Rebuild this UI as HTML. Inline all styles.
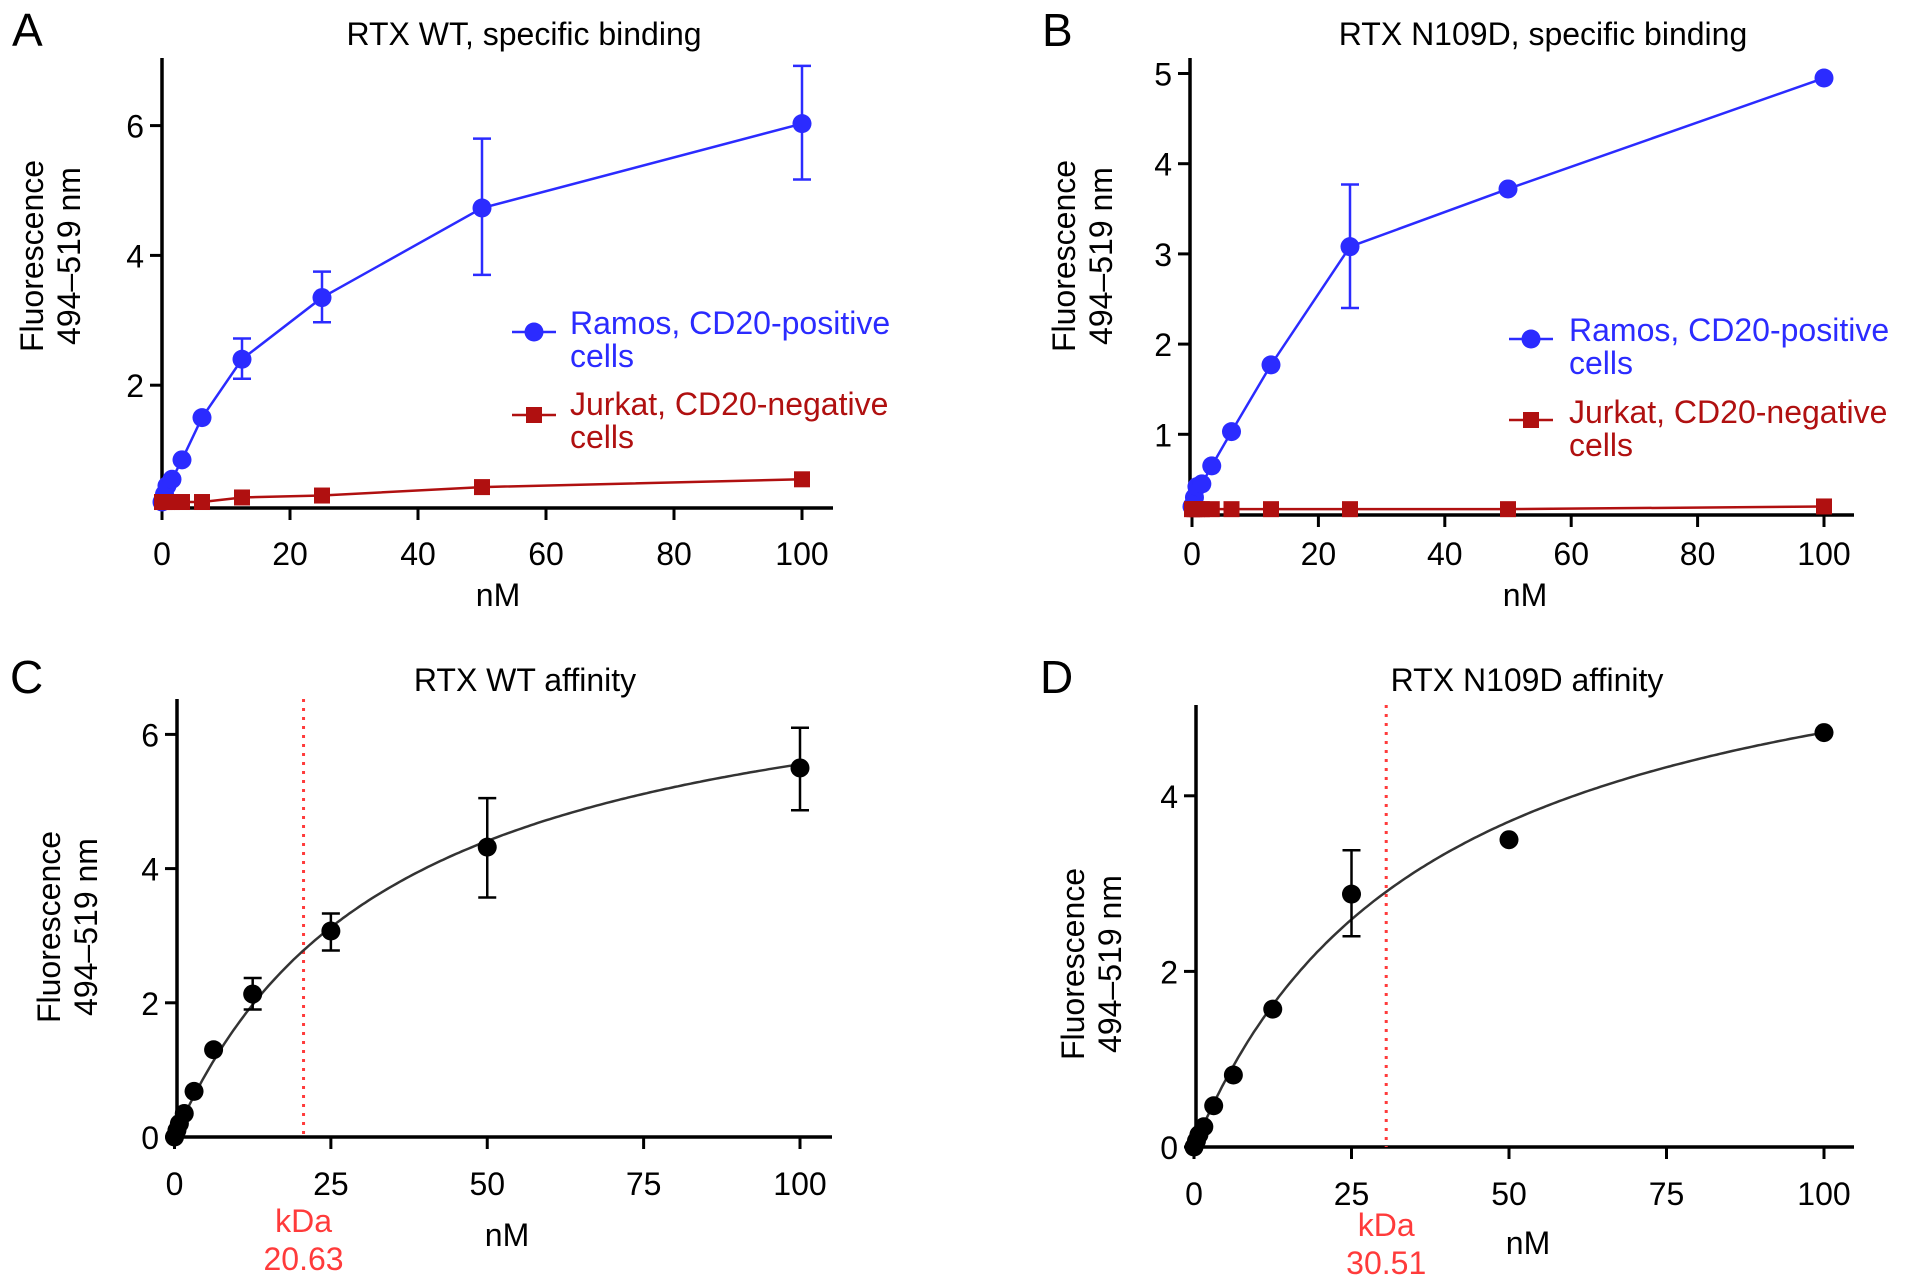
<!DOCTYPE html>
<html><head><meta charset="utf-8">
<style>
html,body{margin:0;padding:0;background:#fff;}
svg{display:block;font-family:"Liberation Sans",Arial,sans-serif;}
</style></head>
<body>
<svg id="fig" width="1913" height="1287" viewBox="0 0 1913 1287" xmlns="http://www.w3.org/2000/svg">
<text x="12" y="46" font-size="46">A</text>
<text x="1042" y="46" font-size="46">B</text>
<text x="10" y="693" font-size="46">C</text>
<text x="1040" y="693" font-size="46">D</text>
</svg>
<script>
// ---- data ----
const concA = [0, 0.39, 0.78, 1.56, 3.125, 6.25, 12.5, 25, 50, 100];
const ramosA = [0.2, 0.32, 0.45, 0.55, 0.85, 1.5, 2.4, 3.35, 4.73, 6.03];
const ramosAErrLo = [null, null, null, null, null, null, 2.1, 2.97, 3.7, 5.17];
const ramosAErrHi = [null, null, null, null, null, null, 2.72, 3.75, 5.8, 6.92];
const jurkatA = [0.2, 0.2, 0.2, 0.2, 0.2, 0.2, 0.27, 0.3, 0.43, 0.55];
const ramosB = [0.2, 0.3, 0.42, 0.45, 0.65, 1.03, 1.77, 3.08, 3.72, 4.95];
const ramosBErrLo = [null, null, null, null, null, null, null, 2.4, null, null];
const ramosBErrHi = [null, null, null, null, null, null, null, 3.77, null, null];
const jurkatB = [0.17, 0.17, 0.17, 0.17, 0.17, 0.17, 0.17, 0.17, 0.17, 0.2];
const affC = [0, 0.1, 0.2, 0.35, 0.68, 1.3, 2.13, 3.07, 4.32, 5.5];
const affCErrLo = [null, null, null, null, null, null, 1.9, 2.78, 3.57, 4.87];
const affCErrHi = [null, null, null, null, null, null, 2.37, 3.33, 5.05, 6.1];
const affD = [0, 0.07, 0.14, 0.23, 0.47, 0.82, 1.57, 2.88, 3.5, 4.72];
const affDErrLo = [null, null, null, null, null, null, null, 2.4, null, null];
const affDErrHi = [null, null, null, null, null, null, null, 3.38, null, null];
const fitC = [7.5, 35];     // Bmax, K
const fitD = [6.5, 37.7];
const kdC = [20.63];
const kdD = [30.51];
const ticksXAB = [0, 20, 40, 60, 80, 100];
const ticksYA = [2, 4, 6];
const ticksYB = [1, 2, 3, 4, 5];
const ticksXCD = [0, 25, 50, 75, 100];
const ticksYC = [0, 2, 4, 6];
const ticksYD = [0, 2, 4];

const FS = 32;
const NS = "http://www.w3.org/2000/svg";
const svg = document.getElementById('fig');
function mk(tag, attrs, parent, text) {
  const e = document.createElementNS(NS, tag);
  for (const k in attrs) e.setAttribute(k, attrs[k]);
  if (text !== undefined) e.textContent = text;
  (parent || svg).appendChild(e);
  return e;
}
function panel(p) {
  const g = mk('g', {});
  
  
  const sx = v => p.x0 + (p.x100 - p.x0) * v / 100;
  const sy = v => p.y0 - p.unit * v;
  let a = mk('line', {x1: p.ax, y1: p.top, x2: p.ax, y2: p.axY + 1.5, stroke: '#000', 'stroke-width': 3.5}, g);
  
  
  a = mk('line', {x1: p.ax - 1.5, y1: p.axY, x2: p.right, y2: p.axY, stroke: '#000', 'stroke-width': 3.5}, g);
  
  
  p.tx.forEach(t => {
    const x = sx(t);
    mk('line', {x1: x, y1: p.axY, x2: x, y2: p.axY + 12, stroke: '#000', 'stroke-width': 3}, g);
    const tl = mk('text', {x: x, y: p.txY, 'font-size': FS, 'text-anchor': 'middle'}, g, t);
    
    
  });
  p.ty.forEach(t => {
    const y = sy(t);
    mk('line', {x1: p.ax - 12, y1: y, x2: p.ax, y2: y, stroke: '#000', 'stroke-width': 3}, g);
    const tl = mk('text', {x: p.ax - 18, y: y + 12, 'font-size': FS, 'text-anchor': 'end'}, g, t);
    
    
  });
  let t = mk('text', {x: p.titleX, y: p.titleY, 'font-size': FS, 'text-anchor': 'middle'}, g, p.title);
  
  
  t = mk('text', {x: p.nmX, y: p.nmY, 'font-size': FS, 'text-anchor': 'middle'}, g, 'nM');
  
  
  t = mk('text', {transform: `translate(${p.ylX},${p.ylY}) rotate(-90)`, 'font-size': FS, 'text-anchor': 'middle'}, g);
  
  
  mk('tspan', {x: 0, y: 0}, t, 'Fluorescence');
  mk('tspan', {x: 0, y: 37}, t, '494–519 nm');

  if (p.kd) {
    const x = sx(p.kd[0]);
    const l = mk('line', {x1: x, y1: p.top, x2: x, y2: p.axY, stroke: '#ff3b3b', 'stroke-width': 3, 'stroke-dasharray': '3,6'}, g);
    
    
    let k = mk('text', {x: x, y: p.kdY, 'font-size': FS, 'text-anchor': 'middle', fill: '#ff3b3b'}, g, 'kDa');
    
    
    k = mk('text', {x: x, y: p.kdY + 38, 'font-size': FS, 'text-anchor': 'middle', fill: '#ff3b3b'}, g, p.kd[0].toFixed(2));
    
    
  }
  if (p.fit) {
    let d = '';
    for (let i = 0; i <= 200; i++) {
      const v = i / 2;
      const y = p.fit[0] * v / (p.fit[1] + v);
      d += (i ? 'L' : 'M') + sx(v).toFixed(1) + ',' + sy(y).toFixed(1);
    }
    const c = mk('path', {d: d, fill: 'none', stroke: '#333', 'stroke-width': 2.5}, g);
    
    
  }
  p.series.forEach(s => {
    if (s.line) {
      const pts = concA.map((c, i) => sx(c) + ',' + sy(s.vals[i])).join(' ');
      const pl = mk('polyline', {points: pts, fill: 'none', stroke: s.color, 'stroke-width': 2.5}, g);
      
      
    }
    concA.forEach((c, i) => {
      const x = sx(c), y = sy(s.vals[i]);
      if (s.lo && s.lo[i] != null) {
        const e = mk('path', {d: `M${x},${sy(s.lo[i])}V${sy(s.hi[i])}M${x-9},${sy(s.lo[i])}H${x+9}M${x-9},${sy(s.hi[i])}H${x+9}`, stroke: s.color, 'stroke-width': 2.5, fill: 'none'}, g);
        
        
      }
      let m;
      if (s.shape === 'sq') m = mk('rect', {x: x - 8, y: y - 8, width: 16, height: 16, fill: s.color}, g);
      else m = mk('circle', {cx: x, cy: y, r: 9.5, fill: s.color}, g);
      
      
    });
  });
  if (p.legend) {
    p.legend.forEach(L => {
      const lg = mk('g', {}, g);
      
      
      mk('line', {x1: L.x - 22, y1: L.my, x2: L.x + 22, y2: L.my, stroke: L.color, 'stroke-width': 2.5}, lg);
      if (L.shape === 'sq') mk('rect', {x: L.x - 8, y: L.my - 8, width: 16, height: 16, fill: L.color}, lg);
      else mk('circle', {cx: L.x, cy: L.my, r: 9.5, fill: L.color}, lg);
      mk('text', {x: L.tx, y: L.ty, 'font-size': FS, fill: L.color}, lg, L.t1);
      mk('text', {x: L.tx, y: L.ty + 33, 'font-size': FS, fill: L.color}, lg, 'cells');
    });
  }
}
const BLUE = '#2b2bff', RED = '#b01010', BLK = '#000';
panel({id: 'panel-a', x0: 162, x100: 802, y0: 515, unit: 64.9, ax: 162, axY: 508, top: 58, right: 833,
  tx: ticksXAB, ty: ticksYA, txY: 565, title: 'RTX WT, specific binding', titleX: 524, titleY: 45,
  nmX: 498, nmY: 606, ylX: 43, ylY: 256,
  series: [{name: 'ramos', vals: ramosA, lo: ramosAErrLo, hi: ramosAErrHi, color: BLUE, line: true},
           {name: 'jurkat', vals: jurkatA, color: RED, shape: 'sq', line: true}],
  legend: [{x: 534, my: 332, tx: 570, ty: 334, t1: 'Ramos, CD20-positive', color: BLUE},
           {x: 534, my: 415, tx: 570, ty: 415, t1: 'Jurkat, CD20-negative', color: RED, shape: 'sq'}]});
panel({id: 'panel-b', x0: 1192, x100: 1824, y0: 524.5, unit: 90.2, ax: 1190, axY: 515, top: 58, right: 1854,
  tx: ticksXAB, ty: ticksYB, txY: 565, title: 'RTX N109D, specific binding', titleX: 1543, titleY: 45,
  nmX: 1525, nmY: 606, ylX: 1075, ylY: 256,
  series: [{name: 'ramos', vals: ramosB, lo: ramosBErrLo, hi: ramosBErrHi, color: BLUE, line: true},
           {name: 'jurkat', vals: jurkatB, color: RED, shape: 'sq', line: true}],
  legend: [{x: 1531, my: 339, tx: 1569, ty: 341, t1: 'Ramos, CD20-positive', color: BLUE},
           {x: 1531, my: 420, tx: 1569, ty: 423, t1: 'Jurkat, CD20-negative', color: RED, shape: 'sq'}]});
panel({id: 'panel-c', x0: 174.5, x100: 800, y0: 1137, unit: 67.1, ax: 177, axY: 1137, top: 699, right: 832,
  tx: ticksXCD, ty: ticksYC, txY: 1195, title: 'RTX WT affinity', titleX: 525, titleY: 691,
  nmX: 507, nmY: 1246, ylX: 60, ylY: 927, kd: kdC, fit: fitC, kdY: 1232,
  series: [{name: 'affinity', vals: affC, lo: affCErrLo, hi: affCErrHi, color: BLK}]});
panel({id: 'panel-d', x0: 1194, x100: 1824, y0: 1147, unit: 87.8, ax: 1196, axY: 1147, top: 705, right: 1854,
  tx: ticksXCD, ty: ticksYD, txY: 1205, title: 'RTX N109D affinity', titleX: 1527, titleY: 691,
  nmX: 1528, nmY: 1254, ylX: 1084, ylY: 964, kd: kdD, fit: fitD, kdY: 1236,
  series: [{name: 'affinity', vals: affD, lo: affDErrLo, hi: affDErrHi, color: BLK}]});
</script>
</body></html>
